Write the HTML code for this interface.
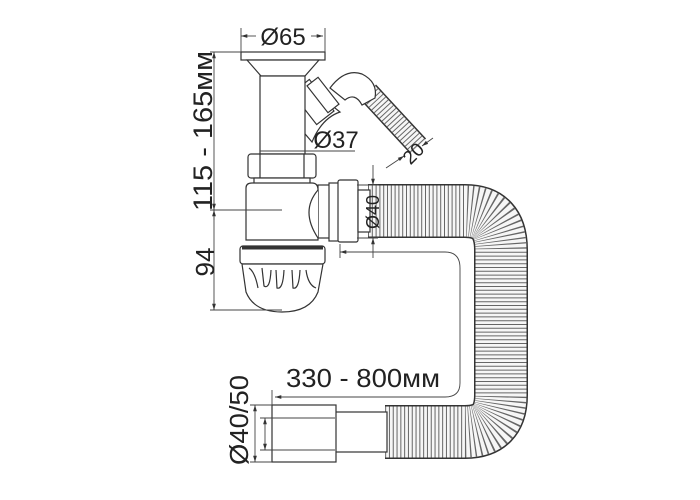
<!DOCTYPE html>
<html><head><meta charset="utf-8"><style>
html,body{margin:0;padding:0;background:#fff}
svg{display:block}
text{font-family:"Liberation Sans",sans-serif;fill:#222}
</style></head><body>
<svg width="700" height="500" viewBox="0 0 700 500" xmlns="http://www.w3.org/2000/svg">
<defs>
<marker id="a" viewBox="0 0 10 10" refX="10" refY="5" markerWidth="7" markerHeight="7" orient="auto-start-reverse"><path d="M0,2 L10,5 L0,8z" fill="#333"/></marker>
</defs>
<g fill="none" stroke="#333" stroke-width="1">
<path d="M368,211 L465,211 Q501,211 501,250 L501,395 Q501,432 465,432 L385,432" stroke="#333" stroke-width="54"/>
<path d="M368,211 L465,211 Q501,211 501,250 L501,395 Q501,432 465,432 L385,432" stroke="#f6f6f6" stroke-width="51"/>
<path d="M368,211 L465,211 Q501,211 501,250 L501,395 Q501,432 465,432 L385,432" stroke="#666" stroke-width="51" stroke-dasharray="1 2.8"/>
<path d="M368,92 L418,146" stroke="#333" stroke-width="22"/>
<path d="M368,92 L418,146" stroke="#f6f6f6" stroke-width="19"/>
<path d="M368,92 L418,146" stroke="#666" stroke-width="19" stroke-dasharray="1 2.8"/>
</g>
<g fill="#fff" stroke="#333" stroke-width="1.2">
<path d="M330,88 Q345,68 362,74 Q378,82 375,98 L362,105 Q355,92 345,100z"/>
<path d="M300,128 Q298,100 315,92 L340,112 Q322,118 312,142z"/>
<rect x="302" y="82" width="22" height="40" transform="rotate(-38 313 102)"/>
<rect x="316" y="78" width="14" height="34" transform="rotate(-38 323 95)"/>
<rect x="241" y="52" width="84" height="8"/>
<path d="M247,60 L319,60 L305,76 L261,76z"/>
<rect x="260" y="76" width="45" height="78"/>
<rect x="248" y="154" width="68" height="24" rx="3"/>
<line x1="260" y1="154" x2="260" y2="178"/><line x1="304" y1="154" x2="304" y2="178"/>
<rect x="254" y="178" width="56" height="6"/>
<rect x="318" y="185" width="20" height="53"/>
<path d="M246,188 Q246,183 252,183 L312,183 Q318,183 318,190 L318,240 L246,240z"/>
<path d="M318,190 Q300,211 318,238" />
<rect x="329" y="183" width="10" height="58"/>
<rect x="338" y="180" width="20" height="62" rx="2"/>
<rect x="358" y="190" width="12" height="42"/>
<rect x="240" y="246" width="85" height="18" rx="3"/>
<line x1="242" y1="248" x2="323" y2="248" stroke-width="3"/>
<path d="M242,264 L323,264 L318,292 Q310,312 282,312 Q254,312 246,292z"/>
<path d="M249,268 Q255,272 258,288 M262,268 L264,286 Q270,290 271,270 M276,270 L277,288 Q283,290 284,270 M292,270 L293,288 Q299,290 300,270 M306,270 Q308,285 316,288" fill="none"/>
<rect x="335" y="412" width="52" height="40"/>
<rect x="272" y="405" width="64" height="57"/>
</g>
<g fill="none" stroke="#444" stroke-width="0.9">
<line x1="241" y1="36" x2="256" y2="36" marker-start="url(#a)"/>
<line x1="311" y1="36" x2="323" y2="36" marker-end="url(#a)"/>
<line x1="241" y1="28" x2="241" y2="52"/><line x1="325" y1="28" x2="325" y2="52"/>
<line x1="210" y1="52" x2="241" y2="52"/>
<line x1="214" y1="52" x2="214" y2="310" />
<line x1="214" y1="62" x2="214" y2="52" marker-end="url(#a)"/>
<line x1="214" y1="200" x2="214" y2="210" marker-end="url(#a)"/>
<line x1="214" y1="220" x2="214" y2="210" marker-end="url(#a)"/>
<line x1="214" y1="300" x2="214" y2="310" marker-end="url(#a)"/>
<line x1="210" y1="210" x2="282" y2="210"/>
<line x1="210" y1="310" x2="282" y2="310"/>
<line x1="260" y1="151" x2="355" y2="151"/>
<line x1="373" y1="165" x2="373" y2="185" marker-end="url(#a)"/>
<line x1="373" y1="258" x2="373" y2="238" marker-end="url(#a)"/>
<line x1="357" y1="185" x2="378" y2="185"/><line x1="357" y1="238" x2="378" y2="238"/>
<line x1="433" y1="138" x2="422" y2="146" marker-end="url(#a)"/>
<line x1="386" y1="168" x2="404" y2="156" marker-end="url(#a)"/>
<path d="M340,252 L445,252 Q460,252 460,268 L460,383 Q460,397 445,397 L275,397" marker-start="url(#a)" marker-end="url(#a)"/>
<line x1="340" y1="244" x2="340" y2="258"/>
<line x1="272" y1="390" x2="272" y2="405"/>
<line x1="255" y1="405" x2="255" y2="462" marker-start="url(#a)" marker-end="url(#a)"/>
<line x1="250" y1="405" x2="272" y2="405"/><line x1="250" y1="462" x2="272" y2="462"/>
<line x1="265" y1="418" x2="265" y2="450" marker-start="url(#a)" marker-end="url(#a)"/>
<line x1="260" y1="418" x2="335" y2="418"/><line x1="260" y1="450" x2="335" y2="450"/>
</g>
<text x="283" y="45" font-size="24" text-anchor="middle">Ø65</text>
<text x="336" y="148" font-size="24" text-anchor="middle">Ø37</text>
<text x="286" y="387" font-size="26" textLength="154" lengthAdjust="spacingAndGlyphs">330 - 800мм</text>
<text transform="translate(212,131) rotate(-90)" font-size="27" text-anchor="middle" textLength="160" lengthAdjust="spacingAndGlyphs">115 - 165мм</text>
<text transform="translate(214,262) rotate(-90)" font-size="26" text-anchor="middle">94</text>
<text transform="translate(379,212) rotate(-90)" font-size="18" text-anchor="middle">Ø40</text>
<text transform="translate(248,420) rotate(-90)" font-size="26" text-anchor="middle" textLength="90" lengthAdjust="spacingAndGlyphs">Ø40/50</text>
<text transform="translate(418,158) rotate(-45)" font-size="19" text-anchor="middle">20</text>
</svg>
</body></html>
